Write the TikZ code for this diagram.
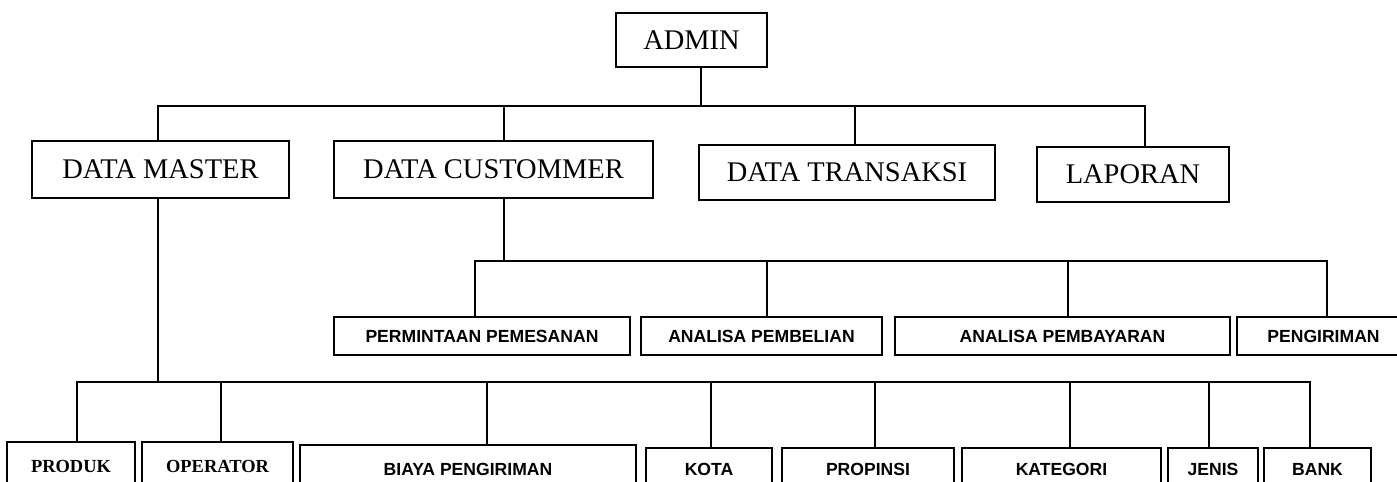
\documentclass[tikz,border=0pt]{standalone}
\usepackage{fontspec}
\setmainfont{Liberation Serif}
\newfontfamily\sansbf{Liberation Sans}

\begin{document}
\begin{tikzpicture}[x=0.02cm, y=-0.02cm, line width=1.1pt,
	main/.style = {draw, rectangle, inner sep=0pt, font=\fontsize{16.2}{18}\selectfont},
	sub/.style = {draw, rectangle, inner sep=0pt, minimum height=0.76cm, font=\sansbf\bfseries\fontsize{10}{12}\selectfont},
	leaf/.style = {draw, rectangle, inner sep=0pt, minimum height=0.96cm, font=\bfseries\fontsize{10.5}{12}\selectfont},
	leafs/.style = {sub, minimum height=0.84cm}]
	\useasboundingbox (0,0) rectangle (1397,481);
		\node (admin) [main, minimum width=3.02cm, minimum height=1.08cm] at (691.5,40) {ADMIN};
		\node (master) [main, minimum width=5.14cm, minimum height=1.14cm] at (160.5,169.5) {DATA MASTER};
		\node (customer) [main, minimum width=6.38cm, minimum height=1.14cm] at (493.5,169.5) {DATA CUSTOMMER};
		\node (transaksi) [main, minimum width=5.92cm, minimum height=1.10cm] at (847,172.5) {DATA TRANSAKSI};
		\node (laporan) [main, minimum width=3.84cm, minimum height=1.10cm] at (1133,174.5) {LAPORAN};
		\node (permintaan) [sub, minimum width=5.92cm] at (482,336) {PERMINTAAN PEMESANAN};
		\node (pembelian) [sub, minimum width=4.82cm] at (761.5,336) {ANALISA PEMBELIAN};
		\node (pembayaran) [sub, minimum width=6.70cm] at (1062.5,336) {ANALISA PEMBAYARAN};
		\node (pengiriman) [sub, minimum width=3.46cm] at (1323.5,336) {PENGIRIMAN};
		\node (produk) [leaf, minimum width=2.56cm] at (71,466) {PRODUK};
		\node (operator) [leaf, minimum width=3.02cm] at (217.5,466) {OPERATOR};
		\node (biaya) [leafs, minimum width=6.72cm, minimum height=0.96cm] at (468,469) {BIAYA PENGIRIMAN};
		\node (kota) [leafs, minimum width=2.52cm] at (709,469) {KOTA};
		\node (propinsi) [leafs, minimum width=3.44cm] at (868,469) {PROPINSI};
		\node (kategori) [leafs, minimum width=3.98cm] at (1061.5,469) {KATEGORI};
		\node (jenis) [leafs, minimum width=1.80cm] at (1213,469) {JENIS};
		\node (bank) [leafs, minimum width=2.14cm] at (1317.5,469) {BANK};
		% top level
		\coordinate (a0) at (701,106);
		\coordinate (m1) at (158,106);
		\coordinate (m2) at (504,106);
		\coordinate (m3) at (855,106);
		\coordinate (m4) at (1145,106);
		\draw[-]  (admin.south -| a0) -- (a0);
		\draw[-]  (m1 |- master.north) -- (m1) -- (m4) -- (m4 |- laporan.north);
		\draw[-]  (m2) -- (m2 |- customer.north);
		\draw[-]  (m3) -- (m3 |- transaksi.north);
		% data customer
		\coordinate (c0) at (504,261);
		\coordinate (c1) at (475,261);
		\coordinate (c2) at (767,261);
		\coordinate (c3) at (1068,261);
		\coordinate (c4) at (1327,261);
		\draw[-]  (customer.south -| c0) -- (c0);
		\draw[-]  (c1 |- permintaan.north) -- (c1) -- (c4) -- (c4 |- pengiriman.north);
		\draw[-]  (c2) -- (c2 |- pembelian.north);
		\draw[-]  (c3) -- (c3 |- pembayaran.north);
		% data master
		\coordinate (d0) at (158,382);
		\coordinate (d1) at (77,382);
		\coordinate (d8) at (1310,382);
		\draw[-]  (master.south -| d0) -- (d0);
		\draw[-]  (d1 |- produk.north) -- (d1) -- (d8) -- (d8 |- bank.north);
		\foreach \x/\n in {221/operator, 487/biaya, 711/kota, 875/propinsi, 1070/kategori, 1209/jenis}
			\draw[-]  (\x,382) -- (\x,382 |- \n.north);
	\end{tikzpicture}
\end{document}
